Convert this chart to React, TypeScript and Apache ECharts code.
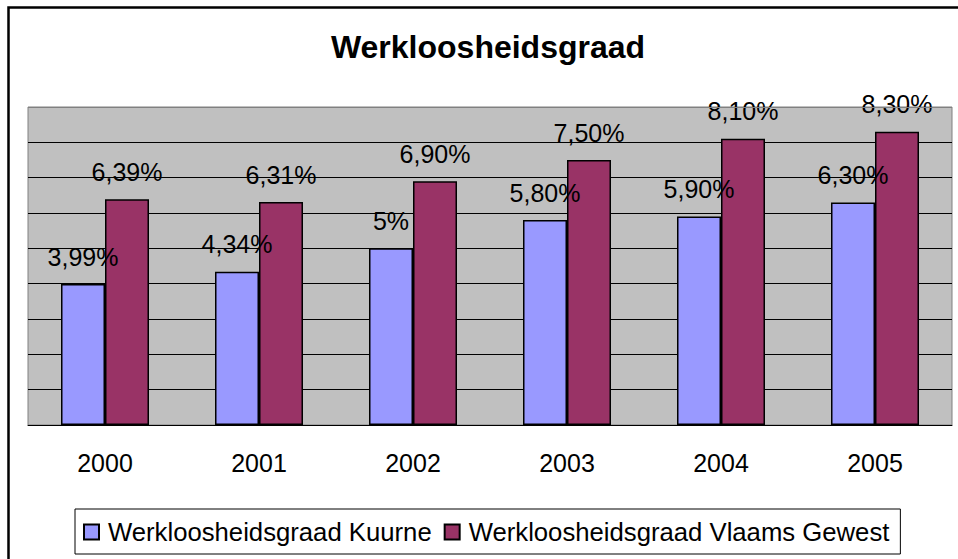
import React, { useEffect, useRef } from "react";
import * as echarts from "echarts";

const years = ["2000", "2001", "2002", "2003", "2004", "2005"];
const kuurne = [3.99, 4.34, 5, 5.8, 5.9, 6.3];
const vlaams = [6.39, 6.31, 6.9, 7.5, 8.1, 8.3];
const seriesNames = ["Werkloosheidsgraad Kuurne", "Werkloosheidsgraad Vlaams Gewest"];
const titleText = "Werkloosheidsgraad";

const FONT = "'Liberation Sans', Arial, sans-serif";

const fmt = (v: number) =>
  (Number.isInteger(v) ? String(v) : v.toFixed(2).replace(".", ",")) + "%";

export default function App() {
  const ref = useRef<HTMLDivElement>(null);
  useEffect(() => {
    if (!ref.current) return;
    const chart = echarts.init(ref.current, null, { renderer: "svg" });
    const label = {
      show: true,
      position: "top" as const,
      distance: 15,
      color: "#000",
      fontFamily: FONT,
      fontSize: 25,
      formatter: (p: any) => fmt(p.value),
    };
    chart.setOption({
      animation: false,
      backgroundColor: "#fff",
      textStyle: { fontFamily: FONT },
      graphic: [
        {
          type: "rect",
          z: 0,
          shape: { x: 8.5, y: 7.5, width: 1000, height: 600 },
          style: { fill: "none", stroke: "#000", lineWidth: 2.5 },
        },
        {
          type: "text",
          x: 488,
          y: 47,
          style: {
            text: titleText,
            font: "bold 32px 'Liberation Sans', Arial, sans-serif",
            fill: "#000",
            align: "center",
            verticalAlign: "middle",
          },
        },
        {
          type: "line",
          z: 100,
          shape: { x1: 28, y1: 107.5, x2: 952, y2: 107.5 },
          style: { stroke: "#808080", lineWidth: 1 },
        },
      ],
      grid: {
        left: 28,
        top: 107,
        right: 6,
        bottom: 134,
        show: true,
        backgroundColor: "#c0c0c0",
        borderColor: "#808080",
        borderWidth: 1,
      },
      legend: {
        left: 75,
        top: 509,
        data: seriesNames,
        icon: "rect",
        itemWidth: 15,
        itemHeight: 15,
        itemGap: 12,
        padding: [10, 11, 9, 8],
        borderColor: "#000",
        borderWidth: 1,
        backgroundColor: "#fff",
        textStyle: {
          fontFamily: FONT,
          fontSize: 25.7,
          color: "#000",
          padding: [0, 0, 0, 4],
        },
      },
      xAxis: {
        type: "category",
        data: years,
        axisLine: { lineStyle: { color: "#000", width: 1 } },
        axisTick: { length: 8, lineStyle: { color: "#000" } },
        axisLabel: { color: "#000", fontFamily: FONT, fontSize: 25, margin: 25 },
      },
      yAxis: {
        type: "value",
        min: 0,
        max: 9,
        interval: 1,
        axisLabel: { show: false },
        axisLine: { show: false },
        axisTick: { show: false },
        splitLine: { lineStyle: { color: "#000", width: 1 } },
      },
      series: [
        {
          name: seriesNames[0],
          type: "bar",
          data: kuurne,
          barWidth: 44,
          barGap: "0%",
          itemStyle: { color: "#9999ff", borderColor: "#000", borderWidth: 1.5 },
          label,
        },
        {
          name: seriesNames[1],
          type: "bar",
          data: vlaams,
          barWidth: 44,
          barGap: "0%",
          itemStyle: { color: "#993366", borderColor: "#000", borderWidth: 1.5 },
          label,
        },
      ],
    });
    return () => chart.dispose();
  }, []);
  return (
    <div
      ref={ref}
      style={{ position: "fixed", left: 0, top: 0, width: 958, height: 559 }}
    />
  );
}
